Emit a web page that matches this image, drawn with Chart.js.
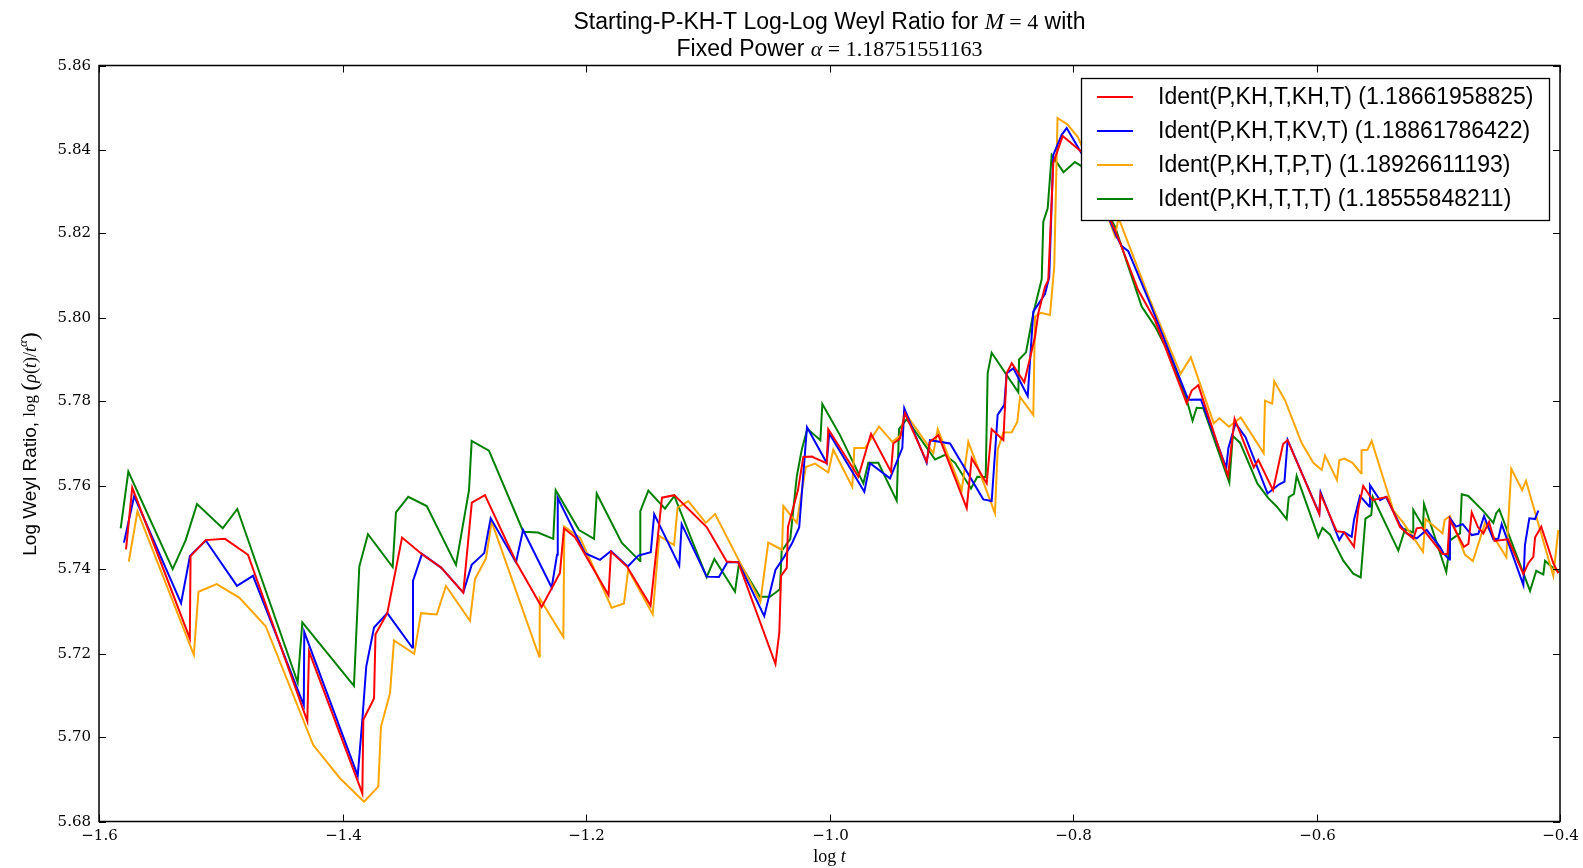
<!DOCTYPE html>
<html lang="en">
  <head>
    <meta charset="UTF-8" />
    <title>Starting-P-KH-T Log-Log Weyl Ratio</title>
    <script src="https://cdn.jsdelivr.net/npm/chart.js"></script>
    <style>
      html, body { margin: 0; padding: 0; background: #fff; }
      #wrap { width: 1583px; height: 868px; }
    </style>
  </head>
  <body>
    <div id="wrap"><canvas id="weylChart" width="1583" height="868"></canvas></div>
  </body>
</html>

<script>
  // series: Ident(P,KH,T,KH,T)
  var xKH = [-1.5778, -1.5727, -1.5254, -1.5248, -1.5124, -1.4965, -1.4776, -1.4289, -1.4275, -1.3837, -1.3829, -1.3741, -1.3729, -1.3632, -1.3511, -1.3349, -1.3191, -1.3008, -1.2938, -1.2830, -1.2569, -1.2364, -1.2214, -1.2181, -1.2090, -1.1815, -1.1795, -1.1663, -1.1470, -1.1376, -1.1275, -1.1009, -1.0844, -1.0749, -1.0444, -1.0412, -1.0398, -1.0351, -1.0341, -1.0259, -1.0215, -1.0144, -1.0119, -1.0023, -1.0010, -0.9763, -0.9659, -0.9495, -0.9476, -0.9421, -0.9380, -0.9202, -0.9175, -0.9106, -0.8873, -0.8832, -0.8709, -0.8668, -0.8572, -0.8545, -0.8503, -0.8400, -0.8312, -0.8285, -0.8230, -0.8203, -0.8162, -0.8085, -0.7928, -0.7628, -0.7466, -0.7327, -0.7066, -0.7025, -0.6971, -0.6727, -0.6673, -0.6515, -0.6478, -0.6357, -0.6275, -0.6238, -0.5977, -0.5967, -0.5834, -0.5774, -0.5692, -0.5657, -0.5616, -0.5538, -0.5423, -0.5314, -0.5205, -0.5177, -0.5136, -0.4965, -0.4924, -0.4906, -0.4789, -0.4752, -0.4725, -0.4674, -0.4630, -0.4583, -0.4538, -0.4425, -0.4301, -0.4260, -0.4219, -0.4205, -0.4154, -0.4055, -0.4014];
  var yKH = [5.7448, 5.7595, 5.7236, 5.7432, 5.7470, 5.7473, 5.7435, 5.7039, 5.7205, 5.6867, 5.7042, 5.7093, 5.7246, 5.7296, 5.7476, 5.7437, 5.7405, 5.7345, 5.7559, 5.7577, 5.7415, 5.7311, 5.7392, 5.7498, 5.7477, 5.7339, 5.7442, 5.7407, 5.7314, 5.7571, 5.7577, 5.7501, 5.7419, 5.7417, 5.7175, 5.7251, 5.7385, 5.7404, 5.7501, 5.7589, 5.7668, 5.7669, 5.7665, 5.7653, 5.7734, 5.7621, 5.7723, 5.7633, 5.7700, 5.7712, 5.7772, 5.7657, 5.7704, 5.7720, 5.7546, 5.7665, 5.7605, 5.7734, 5.7708, 5.7867, 5.7891, 5.7846, 5.7954, 5.8010, 5.8073, 5.8089, 5.8368, 5.8432, 5.8394, 5.8189, 5.8066, 5.7994, 5.7796, 5.7826, 5.7839, 5.7623, 5.7759, 5.7643, 5.7661, 5.7589, 5.7698, 5.7708, 5.7532, 5.7580, 5.7491, 5.7489, 5.7454, 5.7544, 5.7599, 5.7565, 5.7573, 5.7501, 5.7473, 5.7498, 5.7500, 5.7437, 5.7437, 5.7519, 5.7454, 5.7461, 5.7536, 5.7501, 5.7486, 5.7513, 5.7468, 5.7472, 5.7389, 5.7415, 5.7430, 5.7476, 5.7502, 5.7415, 5.7391];

  // series: Ident(P,KH,T,KV,T)
  var xKV = [-1.5795, -1.5711, -1.5326, -1.5253, -1.5123, -1.4867, -1.4735, -1.4318, -1.4314, -1.3875, -1.3837, -1.3805, -1.3741, -1.3632, -1.3427, -1.3421, -1.3347, -1.3188, -1.3008, -1.2939, -1.2836, -1.2783, -1.2575, -1.2517, -1.2282, -1.2238, -1.2232, -1.2008, -1.1885, -1.1795, -1.1657, -1.1570, -1.1468, -1.1440, -1.1234, -1.1214, -1.1009, -1.0908, -1.0840, -1.0749, -1.0536, -1.0444, -1.0379, -1.0310, -1.0249, -1.0185, -1.0119, -1.0023, -1.0002, -0.9714, -0.9667, -0.9503, -0.9402, -0.9386, -0.9202, -0.9175, -0.9010, -0.8737, -0.8668, -0.8619, -0.8564, -0.8545, -0.8490, -0.8372, -0.8326, -0.8230, -0.8195, -0.8162, -0.8093, -0.8052, -0.7928, -0.7641, -0.7600, -0.7546, -0.7368, -0.7053, -0.6950, -0.6741, -0.6724, -0.6665, -0.6583, -0.6402, -0.6306, -0.6263, -0.6237, -0.5977, -0.5966, -0.5813, -0.5774, -0.5711, -0.5692, -0.5643, -0.5566, -0.5561, -0.5478, -0.5429, -0.5314, -0.5259, -0.5177, -0.5095, -0.4986, -0.4958, -0.4909, -0.4904, -0.4854, -0.4799, -0.4725, -0.4671, -0.4624, -0.4548, -0.4507, -0.4479, -0.4301, -0.4288, -0.4252, -0.4205, -0.4178];
  var yKV = [5.7464, 5.7575, 5.7320, 5.7432, 5.7469, 5.7361, 5.7385, 5.7077, 5.7251, 5.6909, 5.7042, 5.7169, 5.7262, 5.7296, 5.7214, 5.7373, 5.7437, 5.7404, 5.7345, 5.7411, 5.7439, 5.7522, 5.7417, 5.7494, 5.7357, 5.7435, 5.7570, 5.7439, 5.7423, 5.7444, 5.7407, 5.7433, 5.7441, 5.7532, 5.7409, 5.7508, 5.7383, 5.7382, 5.7417, 5.7417, 5.7289, 5.7399, 5.7427, 5.7461, 5.7500, 5.7739, 5.7704, 5.7654, 5.7724, 5.7585, 5.7653, 5.7617, 5.7689, 5.7784, 5.7654, 5.7708, 5.7700, 5.7567, 5.7563, 5.7768, 5.7792, 5.7867, 5.7879, 5.7813, 5.8014, 5.8056, 5.8097, 5.8387, 5.8435, 5.8451, 5.8390, 5.8192, 5.8170, 5.8158, 5.8034, 5.7804, 5.7805, 5.7642, 5.7689, 5.7748, 5.7715, 5.7581, 5.7603, 5.7609, 5.7708, 5.7533, 5.7584, 5.7470, 5.7489, 5.7478, 5.7518, 5.7575, 5.7550, 5.7601, 5.7565, 5.7573, 5.7506, 5.7486, 5.7474, 5.7494, 5.7454, 5.7439, 5.7424, 5.7522, 5.7502, 5.7508, 5.7482, 5.7485, 5.7527, 5.7472, 5.7473, 5.7508, 5.7363, 5.7458, 5.7522, 5.7520, 5.7540];

  // series: Ident(P,KH,T,P,T)
  var xP = [-1.5755, -1.5684, -1.5221, -1.5183, -1.5033, -1.4848, -1.4631, -1.4240, -1.4021, -1.3823, -1.3706, -1.3684, -1.3610, -1.3577, -1.3411, -1.3355, -1.3226, -1.3150, -1.2953, -1.2912, -1.2821, -1.2775, -1.2384, -1.2380, -1.2186, -1.2178, -1.2049, -1.1789, -1.1688, -1.1653, -1.1452, -1.1398, -1.1277, -1.1248, -1.1160, -1.1016, -1.0940, -1.0568, -1.0503, -1.0390, -1.0379, -1.0269, -1.0195, -1.0119, -1.0010, -0.9969, -0.9813, -0.9796, -0.9708, -0.9593, -0.9484, -0.9413, -0.9386, -0.9147, -0.9111, -0.8914, -0.8860, -0.8641, -0.8619, -0.8572, -0.8503, -0.8457, -0.8435, -0.8326, -0.8312, -0.8263, -0.8189, -0.8154, -0.8127, -0.8047, -0.7961, -0.7928, -0.7655, -0.7626, -0.7368, -0.7117, -0.7032, -0.6844, -0.6797, -0.6719, -0.6622, -0.6434, -0.6423, -0.6364, -0.6347, -0.6259, -0.6122, -0.6026, -0.5957, -0.5930, -0.5832, -0.5813, -0.5770, -0.5704, -0.5634, -0.5630, -0.5581, -0.5547, -0.5369, -0.5287, -0.5125, -0.5105, -0.4965, -0.4947, -0.4904, -0.4780, -0.4715, -0.4616, -0.4441, -0.4400, -0.4311, -0.4279, -0.4055, -0.4014];
  var yP = [5.7419, 5.7539, 5.7197, 5.7347, 5.7365, 5.7333, 5.7265, 5.6982, 5.6903, 5.6847, 5.6883, 5.7026, 5.7105, 5.7231, 5.7199, 5.7296, 5.7293, 5.7361, 5.7278, 5.7377, 5.7427, 5.7514, 5.7192, 5.7331, 5.7239, 5.7502, 5.7476, 5.7309, 5.7319, 5.7400, 5.7293, 5.7480, 5.7458, 5.7547, 5.7563, 5.7511, 5.7532, 5.7323, 5.7464, 5.7447, 5.7551, 5.7511, 5.7644, 5.7652, 5.7631, 5.7685, 5.7597, 5.7689, 5.7689, 5.7740, 5.7704, 5.7720, 5.7776, 5.7677, 5.7734, 5.7589, 5.7704, 5.7534, 5.7685, 5.7726, 5.7727, 5.7752, 5.7811, 5.7768, 5.8002, 5.8011, 5.8006, 5.8121, 5.8475, 5.8460, 5.8430, 5.8409, 5.8194, 5.8237, 5.8042, 5.7866, 5.7905, 5.7748, 5.7760, 5.7740, 5.7762, 5.7677, 5.7802, 5.7795, 5.7848, 5.7803, 5.7701, 5.7654, 5.7637, 5.7671, 5.7613, 5.7660, 5.7664, 5.7654, 5.7629, 5.7684, 5.7685, 5.7706, 5.7541, 5.7511, 5.7442, 5.7520, 5.7486, 5.7518, 5.7527, 5.7435, 5.7420, 5.7511, 5.7429, 5.7640, 5.7589, 5.7611, 5.7385, 5.7494];

  // series: Ident(P,KH,T,T,T)
  var xT = [-1.5822, -1.5759, -1.5395, -1.5288, -1.5195, -1.4984, -1.4864, -1.4368, -1.4330, -1.3906, -1.3862, -1.3791, -1.3588, -1.3561, -1.3460, -1.3308, -1.3068, -1.2961, -1.2939, -1.2797, -1.2515, -1.2394, -1.2269, -1.2249, -1.2057, -1.1934, -1.1912, -1.1707, -1.1556, -1.1554, -1.1488, -1.1351, -1.1275, -1.1009, -1.0946, -1.0776, -1.0742, -1.0571, -1.0489, -1.0407, -1.0393, -1.0322, -1.0269, -1.0228, -1.0182, -1.0075, -1.0059, -0.9914, -0.9722, -0.9681, -0.9599, -0.9448, -0.9429, -0.9366, -0.9133, -0.9051, -0.8969, -0.8838, -0.8786, -0.8717, -0.8701, -0.8668, -0.8449, -0.8443, -0.8386, -0.8326, -0.8257, -0.8244, -0.8208, -0.8175, -0.8078, -0.7984, -0.7934, -0.7655, -0.7436, -0.7327, -0.7195, -0.7066, -0.7018, -0.6984, -0.6930, -0.6716, -0.6688, -0.6628, -0.6486, -0.6396, -0.6327, -0.6245, -0.6228, -0.6185, -0.6163, -0.5985, -0.5951, -0.5889, -0.5780, -0.5698, -0.5637, -0.5598, -0.5550, -0.5538, -0.5328, -0.5273, -0.5207, -0.5205, -0.5125, -0.5117, -0.4934, -0.4901, -0.4821, -0.4807, -0.4753, -0.4630, -0.4548, -0.4524, -0.4499, -0.4246, -0.4195, -0.4137, -0.4123, -0.4070, -0.4008];
  var yT = [5.7498, 5.7633, 5.7401, 5.7470, 5.7556, 5.7498, 5.7544, 5.7131, 5.7274, 5.7123, 5.7407, 5.7484, 5.7406, 5.7536, 5.7573, 5.7551, 5.7411, 5.7589, 5.7706, 5.7683, 5.7490, 5.7488, 5.7473, 5.7589, 5.7494, 5.7473, 5.7581, 5.7464, 5.7420, 5.7539, 5.7588, 5.7545, 5.7575, 5.7382, 5.7425, 5.7347, 5.7417, 5.7335, 5.7335, 5.7353, 5.7444, 5.7473, 5.7621, 5.7685, 5.7735, 5.7708, 5.7794, 5.7720, 5.7605, 5.7654, 5.7654, 5.7564, 5.7734, 5.7758, 5.7662, 5.7673, 5.7654, 5.7593, 5.7621, 5.7620, 5.7867, 5.7916, 5.7822, 5.7900, 5.7917, 5.8010, 5.8091, 5.8228, 5.8260, 5.8387, 5.8346, 5.8370, 5.8361, 5.8216, 5.8026, 5.7979, 5.7905, 5.7804, 5.7754, 5.7785, 5.7784, 5.7607, 5.7718, 5.7702, 5.7605, 5.7570, 5.7550, 5.7520, 5.7572, 5.7580, 5.7623, 5.7477, 5.7499, 5.7483, 5.7421, 5.7390, 5.7381, 5.7521, 5.7530, 5.7573, 5.7445, 5.7496, 5.7488, 5.7542, 5.7503, 5.7556, 5.7394, 5.7470, 5.7486, 5.7579, 5.7575, 5.7539, 5.7511, 5.7534, 5.7543, 5.7349, 5.7397, 5.7388, 5.7421, 5.7407, 5.7394];

  var seriesLabels = [
    "Ident(P,KH,T,KH,T) (1.18661958825)",
    "Ident(P,KH,T,KV,T) (1.18861786422)",
    "Ident(P,KH,T,P,T) (1.18926611193)",
    "Ident(P,KH,T,T,T) (1.18555848211)",
  ];
  var seriesColors = ["#ff0000", "#0000ff", "#ffa500", "#008000"];
  var xTicks = [-1.6, -1.4, -1.2, -1.0, -0.8, -0.6, -0.4];
  var yTicks = [5.68, 5.70, 5.72, 5.74, 5.76, 5.78, 5.80, 5.82, 5.84, 5.86];

  function pontos(xs, ys) {
    var out = [];
    for (var i = 0; i < xs.length; i++) {
      out.push({ x: xs[i], y: ys[i] });
    }
    return out;
  }

  var serieX = [xKH, xKV, xP, xT];
  var serieY = [yKH, yKV, yP, yT];
  var datasets = [];
  for (var s = 0; s < 4; s++) {
    datasets.push({
      label: seriesLabels[s],
      data: pontos(serieX[s], serieY[s]),
      borderColor: seriesColors[s],
      borderWidth: 2,
      pointRadius: 0,
      tension: 0,
      fill: false,
    });
  }

  // texto com trechos em fontes diferentes (para as partes "matematicas")
  function textoMisto(ctx, partes, x, y) {
    var total = 0;
    partes.forEach(function (p) {
      ctx.font = p.font;
      total += ctx.measureText(p.t).width;
    });
    var cx = x - total / 2;
    partes.forEach(function (p) {
      ctx.font = p.font;
      ctx.fillText(p.t, cx, y + (p.dy || 0));
      cx += ctx.measureText(p.t).width;
    });
  }

  var SANS = '"Liberation Sans", Arial, sans-serif';
  var SERIF = '"DejaVu Serif", "Liberation Serif", serif';
  var MATH = '"Liberation Serif", serif';

  var moldura = {
    id: "moldura",
    afterDraw: function (chart) {
      var ctx = chart.ctx;
      var a = chart.chartArea;
      var sx = chart.scales.x;
      var sy = chart.scales.y;
      ctx.save();

      // legenda dentro do grafico
      var lx = 1081, ly = 78, lw = 468, lh = 142;
      ctx.fillStyle = "#fff";
      ctx.fillRect(lx, ly, lw, lh);
      ctx.strokeStyle = "#000";
      ctx.lineWidth = 1.3;
      ctx.strokeRect(lx + 0.5, ly + 0.5, lw, lh);
      for (var i = 0; i < 4; i++) {
        var ey = 97 + i * 34;
        ctx.strokeStyle = seriesColors[i];
        ctx.lineWidth = 2;
        ctx.beginPath();
        ctx.moveTo(1097, ey);
        ctx.lineTo(1133, ey);
        ctx.stroke();
        ctx.fillStyle = "#000";
        ctx.font = "23px " + SANS;
        ctx.textAlign = "left";
        ctx.textBaseline = "middle";
        ctx.fillText(seriesLabels[i], 1158, ey + 1);
      }

      // moldura e ticks para dentro
      ctx.strokeStyle = "#000";
      ctx.lineWidth = 1.5;
      ctx.strokeRect(a.left, a.top, a.right - a.left, a.bottom - a.top);
      ctx.lineWidth = 1;
      ctx.fillStyle = "#000";
      ctx.font = "15px " + SERIF;
      ctx.textAlign = "center";
      ctx.textBaseline = "top";
      xTicks.forEach(function (v) {
        var px = Math.round(sx.getPixelForValue(v)) + 0.5;
        ctx.beginPath();
        ctx.moveTo(px, a.bottom);
        ctx.lineTo(px, a.bottom - 7);
        ctx.moveTo(px, a.top);
        ctx.lineTo(px, a.top + 7);
        ctx.stroke();
        ctx.fillText("\u2212" + Math.abs(v).toFixed(1), px, a.bottom + 7);
      });
      ctx.textAlign = "right";
      ctx.textBaseline = "middle";
      yTicks.forEach(function (v) {
        var py = Math.round(sy.getPixelForValue(v)) + 0.5;
        ctx.beginPath();
        ctx.moveTo(a.left, py);
        ctx.lineTo(a.left + 7, py);
        ctx.moveTo(a.right, py);
        ctx.lineTo(a.right - 7, py);
        ctx.stroke();
        ctx.fillText(v.toFixed(2), a.left - 8, py);
      });

      // titulo
      ctx.textAlign = "left";
      ctx.textBaseline = "middle";
      var cx = (a.left + a.right) / 2;
      textoMisto(ctx, [
        { t: "Starting-P-KH-T Log-Log Weyl Ratio for ", font: "23px " + SANS },
        { t: "M", font: "italic 23px " + MATH },
        { t: " = 4", font: "22px " + MATH },
        { t: " with", font: "23px " + SANS },
      ], cx, 23);
      textoMisto(ctx, [
        { t: "Fixed Power ", font: "23px " + SANS },
        { t: "\u03b1", font: "italic 22px " + MATH },
        { t: " = 1.18751551163", font: "22px " + MATH },
      ], cx, 50);

      // rotulo do eixo x
      textoMisto(ctx, [
        { t: "log ", font: "18px " + MATH },
        { t: "t", font: "italic 18px " + MATH },
      ], cx, 857);

      // rotulo do eixo y
      ctx.translate(31, 444);
      ctx.rotate(-Math.PI / 2);
      textoMisto(ctx, [
        { t: "Log Weyl Ratio, ", font: "19px " + SANS },
        { t: "log ", font: "17px " + MATH },
        { t: "(", font: "24px " + MATH },
        { t: "\u03c1", font: "italic 18px " + MATH },
        { t: "(", font: "18px " + MATH },
        { t: "t", font: "italic 18px " + MATH },
        { t: ")/", font: "18px " + MATH },
        { t: "t", font: "italic 18px " + MATH },
        { t: "\u03b1", font: "italic 13px " + MATH, dy: -7 },
        { t: ")", font: "24px " + MATH },
      ], 0, 0);
      ctx.restore();
    },
  };

  var ctx = document.getElementById("weylChart");
  new Chart(ctx, {
    type: "line",
    data: { datasets: datasets },
    options: {
      responsive: false,
      animation: false,
      devicePixelRatio: 1,
      layout: { padding: { left: 0, top: 65.5, right: 23, bottom: 0 } },
      plugins: {
        legend: { display: false },
        tooltip: { enabled: false },
      },
      scales: {
        x: {
          type: "linear",
          min: -1.6,
          max: -0.4,
          grid: { display: false },
          border: { display: false },
          ticks: { display: false },
          afterFit: function (scale) {
            scale.height = 46.5;
          },
        },
        y: {
          type: "linear",
          min: 5.68,
          max: 5.86,
          grid: { display: false },
          border: { display: false },
          ticks: { display: false },
          afterFit: function (scale) {
            scale.width = 99;
          },
        },
      },
    },
    plugins: [moldura],
  });
</script>
